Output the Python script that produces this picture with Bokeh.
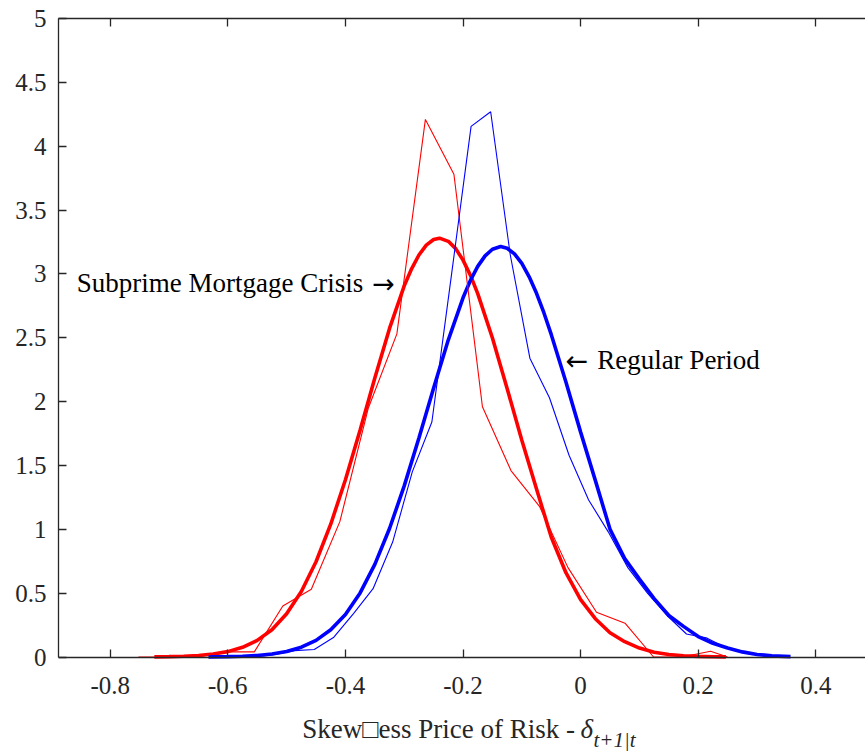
from bokeh.plotting import figure
from bokeh.models import Range1d, LinearAxis, FixedTicker, Label
from bokeh.embed import file_html
from bokeh.resources import INLINE

# ---- data ----
# fitted (smooth) density, crisis period
crisis_fit_x = [-0.725, -0.70, -0.675, -0.65, -0.625, -0.60, -0.575, -0.55, -0.525, -0.50,
                -0.475, -0.45, -0.425, -0.40, -0.375, -0.35, -0.325, -0.30, -0.2875, -0.275,
                -0.2625, -0.25, -0.24, -0.225, -0.2125, -0.20, -0.1875, -0.175, -0.15, -0.125,
                -0.10, -0.075, -0.05, -0.025, 0.00, 0.025, 0.05, 0.075, 0.10, 0.125,
                0.15, 0.175, 0.20, 0.225, 0.247]
crisis_fit_y = [0.001, 0.003, 0.006, 0.012, 0.023, 0.042, 0.076, 0.13, 0.214, 0.339,
                0.513, 0.746, 1.04, 1.388, 1.778, 2.185, 2.573, 2.906, 3.04, 3.148,
                3.225, 3.269, 3.28, 3.255, 3.198, 3.108, 2.99, 2.846, 2.498, 2.103,
                1.697, 1.315, 0.94, 0.66, 0.45, 0.30, 0.19, 0.12, 0.07, 0.037,
                0.02, 0.01, 0.005, 0.002, 0.001]

# fitted (smooth) density, regular period
regular_fit_x = [-0.633, -0.60, -0.575, -0.55, -0.525, -0.50, -0.475, -0.45, -0.425, -0.40,
                 -0.375, -0.35, -0.325, -0.30, -0.275, -0.25, -0.225, -0.20, -0.1875, -0.175,
                 -0.1625, -0.15, -0.136, -0.125, -0.1125, -0.10, -0.0875, -0.075, -0.0625, -0.05,
                 -0.025, 0.00, 0.025, 0.05, 0.075, 0.10, 0.125, 0.15, 0.175, 0.20,
                 0.225, 0.25, 0.275, 0.30, 0.325, 0.357]
regular_fit_y = [0.001, 0.003, 0.006, 0.012, 0.023, 0.043, 0.077, 0.13, 0.213, 0.333,
                 0.502, 0.725, 1.006, 1.34, 1.715, 2.107, 2.484, 2.813, 2.948, 3.059,
                 3.141, 3.193, 3.214, 3.201, 3.157, 3.082, 2.977, 2.848, 2.696, 2.526,
                 2.153, 1.761, 1.383, 1.0, 0.77, 0.61, 0.457, 0.325, 0.24, 0.16,
                 0.107, 0.07, 0.04, 0.02, 0.009, 0.003]

# empirical density, crisis period
crisis_emp_x = [-0.752, -0.700, -0.652, -0.6035, -0.555, -0.5065, -0.458, -0.4095, -0.361,
                -0.3125, -0.264, -0.2155, -0.167, -0.1185, -0.070, -0.0215, 0.027, 0.0755,
                0.124, 0.1725, 0.221, 0.250]
crisis_emp_y = [0.0, 0.0, 0.0, 0.04, 0.04, 0.40, 0.53, 1.06, 1.95,
                2.53, 4.21, 3.78, 1.96, 1.46, 1.18, 0.70, 0.35, 0.265,
                0.0, 0.0, 0.045, 0.0]

# empirical density, regular period
regular_emp_x = [-0.62, -0.553, -0.5197, -0.4863, -0.453, -0.4197, -0.3863, -0.353, -0.3197,
                 -0.2863, -0.253, -0.2197, -0.1863, -0.153, -0.1197, -0.0863, -0.053, -0.0197,
                 0.0136, 0.047, 0.0803, 0.1136, 0.147, 0.18, 0.2136, 0.247, 0.28, 0.3136, 0.347]
regular_emp_y = [0.0, 0.0, 0.02, 0.05, 0.059, 0.155, 0.34, 0.535, 0.90,
                 1.45, 1.84, 2.99, 4.155, 4.27, 3.15, 2.34, 2.03, 1.58,
                 1.23, 0.98, 0.70, 0.50, 0.325, 0.18, 0.15, 0.072, 0.03, 0.01, 0.0]

x_ticks = [-0.8, -0.6, -0.4, -0.2, 0.0, 0.2, 0.4]
x_tick_labels = ["-0.8", "-0.6", "-0.4", "-0.2", "0", "0.2", "0.4"]
y_ticks = [0.0, 0.5, 1.0, 1.5, 2.0, 2.5, 3.0, 3.5, 4.0, 4.5, 5.0]
y_tick_labels = ["0", "0.5", "1", "1.5", "2", "2.5", "3", "3.5", "4", "4.5", "5"]

FONT = "Liberation Serif"
ARROW_FONT = "DejaVu Sans"
AX = "#262626"

# the frame reaches the bottom of the canvas so the axis title (drawn as labels) is not clipped;
# the x axis is pinned at y = 0
p = figure(width=865, height=751, x_range=Range1d(-0.888, 0.4845), y_range=Range1d(-0.740, 5),
           output_backend="svg", toolbar_location=None,
           min_border_left=58, min_border_right=0, min_border_top=18, min_border_bottom=0)
p.grid.visible = False
p.outline_line_color = None
p.background_fill_color = "white"
p.border_fill_color = "white"

for ax, ticks, labels in ((p.xaxis[0], x_ticks, x_tick_labels), (p.yaxis[0], y_ticks, y_tick_labels)):
    ax.ticker = FixedTicker(ticks=ticks, minor_ticks=[])
    ax.major_label_overrides = dict(zip(ticks, labels))
    ax.major_label_text_font = FONT
    ax.major_label_text_font_size = "25px"
    ax.major_label_text_color = AX
    ax.axis_line_color = AX
    ax.axis_line_width = 1.3
    ax.major_tick_line_color = AX
    ax.major_tick_line_width = 1.3
    ax.major_tick_in = 8
    ax.major_tick_out = 0
    ax.minor_tick_line_color = None
p.xaxis.major_label_standoff = 20
p.yaxis.major_label_standoff = 12
p.xaxis.fixed_location = 0
p.yaxis.bounds = (0, 5)

top = LinearAxis(ticker=FixedTicker(ticks=x_ticks, minor_ticks=[]),
                 major_label_text_font_size="1px", major_label_text_color=None,
                 major_label_standoff=0,
                 axis_line_color=AX, axis_line_width=1.3,
                 major_tick_line_color=AX, major_tick_line_width=1.3,
                 major_tick_in=8, major_tick_out=0, minor_tick_line_color=None)
p.add_layout(top, "above")

p.line(crisis_fit_x, crisis_fit_y, line_color="#ff0000", line_width=3.6)
p.line(regular_fit_x, regular_fit_y, line_color="#0000ff", line_width=3.6)
p.line(crisis_emp_x, crisis_emp_y, line_color="#ff0000", line_width=1.1)
p.line(regular_emp_x, regular_emp_y, line_color="#0000ff", line_width=1.1)

def lab(x, y, text, size="27px", font=FONT, style="normal", color="black"):
    p.add_layout(Label(x=x, y=y, text=text, text_font=font, text_font_size=size,
                       text_font_style=style, text_color=color, text_baseline="alphabetic"))

lab(-0.857, 2.927, "Subprime Mortgage Crisis")
lab(-0.3545, 2.927, "\u2192", font=ARROW_FONT)
lab(-0.0258, 2.325, "\u2190", font=ARROW_FONT)
lab(0.0281, 2.325, "Regular Period")

# x axis title with italic delta and subscript
lab(-0.4736, -0.562, "Skew\u25a1ess Price of Risk -", size="27px", color=AX)
lab(-0.0003, -0.562, "\u03b4", size="27px", style="italic", color=AX)
lab(0.0219, -0.651, "t+1|t", size="21px", style="italic", color=AX)

open("out.html", "w").write(file_html(p, INLINE))
